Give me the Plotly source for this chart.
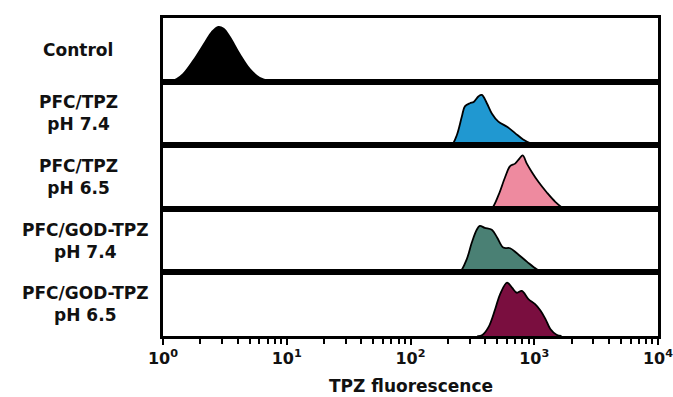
import plotly.graph_objects as go
from plotly.subplots import make_subplots

# ---- data (fluorescence intensity vs. relative cell count) ----
sample_labels = ["Control", "PFC/TPZ<br>pH 7.4", "PFC/TPZ<br>pH 6.5",
                 "PFC/GOD-TPZ<br>pH 7.4", "PFC/GOD-TPZ<br>pH 6.5"]

control_x = [1.0, 1.15, 1.29, 1.46, 1.76, 2.19, 2.48, 2.80, 3.09, 3.47, 4.17, 5.01, 6.03, 7.41, 8.91]
control_y = [0, 0.3, 4, 12, 33, 62, 78, 86, 83, 70, 43, 20, 6, 1, 0]

pfc74_x = [200, 216, 237, 260, 275, 302, 324, 355, 377, 414, 454, 513, 603, 700, 813, 955, 1047]
pfc74_y = [0, 0.5, 16, 45, 61, 66, 68, 77, 79, 66, 50, 37, 29, 19, 9, 2, 0]

pfc65_x = [417, 454, 513, 582, 638, 700, 759, 807, 871, 955, 1084, 1259, 1479, 1722, 1905]
pfc65_y = [0, 1, 21, 50, 67, 71, 79, 84, 71, 58, 42, 26, 11, 1, 0]

god74_x = [229, 251, 285, 313, 343, 363, 398, 454, 501, 562, 638, 724, 871, 1047, 1189, 1318]
god74_y = [0, 1, 21, 47, 67, 73, 70, 67, 55, 39, 38, 30, 17, 5, 0.5, 0]

god65_x = [347, 377, 427, 483, 530, 603, 661, 724, 794, 897, 1016, 1122, 1230, 1349, 1514, 1660]
god65_y = [0, 1, 14, 42, 66, 84, 76, 68, 71, 58, 50, 40, 27, 11, 2, 0]

series_x = [control_x, pfc74_x, pfc65_x, god74_x, god65_x]
series_y = [control_y, pfc74_y, pfc65_y, god74_y, god65_y]
fill_colors = ["#000000", "#2098d1", "#ee8a9f", "#4a8074", "#7a0e3f"]
label_x_px = [78, 78, 78, 85, 85]

major_ticks = [1, 10, 100, 1000, 10000]
major_text = ["<b>10<sup>0</sup></b>", "<b>10<sup>1</sup></b>", "<b>10<sup>2</sup></b>",
              "<b>10<sup>3</sup></b>", "<b>10<sup>4</sup></b>"]
minor_ticks = [m * d for d in [1, 10, 100, 1000] for m in range(2, 10)]

# ---- figure ----
W, H = 673, 397
ML, MR, MT, MB = 163, 15, 18, 61
fig = make_subplots(rows=5, cols=1, shared_xaxes=True, vertical_spacing=0)

for i in range(5):
    fig.add_trace(go.Scatter(
        x=series_x[i], y=series_y[i], mode="lines",
        line=dict(color="black", width=1.8, shape="spline", smoothing=1.0),
        fill="tozeroy", fillcolor=fill_colors[i], hoverinfo="skip",
        showlegend=False), row=i + 1, col=1)

font_family = "DejaVu Sans"
for i in range(1, 6):
    fig.update_yaxes(range=[0, 100], showticklabels=False, ticks="", showgrid=False,
                     zeroline=False, showline=True, mirror=True, linewidth=3,
                     linecolor="black", automargin=False, row=i, col=1)
    fig.update_xaxes(type="log", range=[0, 4], showgrid=False, zeroline=False,
                     showline=True, mirror=True, linewidth=3, linecolor="black",
                     automargin=False, row=i, col=1)
    if i < 5:
        fig.update_xaxes(showticklabels=False, ticks="", row=i, col=1)

fig.update_xaxes(tickmode="array", tickvals=major_ticks, ticktext=major_text,
                 ticks="outside", ticklen=6, tickwidth=2, tickcolor="black",
                 ticklabeloverflow="allow",
                 tickfont=dict(family=font_family, size=16, color="#111"),
                 minor=dict(tickmode="array", tickvals=minor_ticks, ticks="outside",
                            ticklen=5, tickwidth=2, tickcolor="black"),
                 row=5, col=1)

plot_w = W - ML - MR
plot_h = H - MT - MB
for i, lab in enumerate(sample_labels):
    yref = "y domain" if i == 0 else f"y{i + 1} domain"
    fig.add_annotation(text=f"<b>{lab}</b>", xref="paper", yref=yref,
                       x=(label_x_px[i] - ML) / plot_w, y=0.5, xanchor="center",
                       yanchor="middle", showarrow=False, align="center",
                       font=dict(family=font_family, size=17, color="#111"))

fig.add_annotation(text="<b>TPZ fluorescence</b>", xref="paper", yref="paper",
                   x=0.5, y=-(386 - (H - MB)) / plot_h, xanchor="center", yanchor="middle",
                   showarrow=False, font=dict(family=font_family, size=17, color="#111"))

fig.update_layout(width=W, height=H, margin=dict(l=ML, r=MR, t=MT, b=MB, autoexpand=False),
                  paper_bgcolor="white", plot_bgcolor="white",
                  font=dict(family=font_family, color="#111"))

fig.write_html("out.html", config={"displayModeBar": False},
               post_script="document.body.style.margin='0';document.body.style.overflow='hidden';")
